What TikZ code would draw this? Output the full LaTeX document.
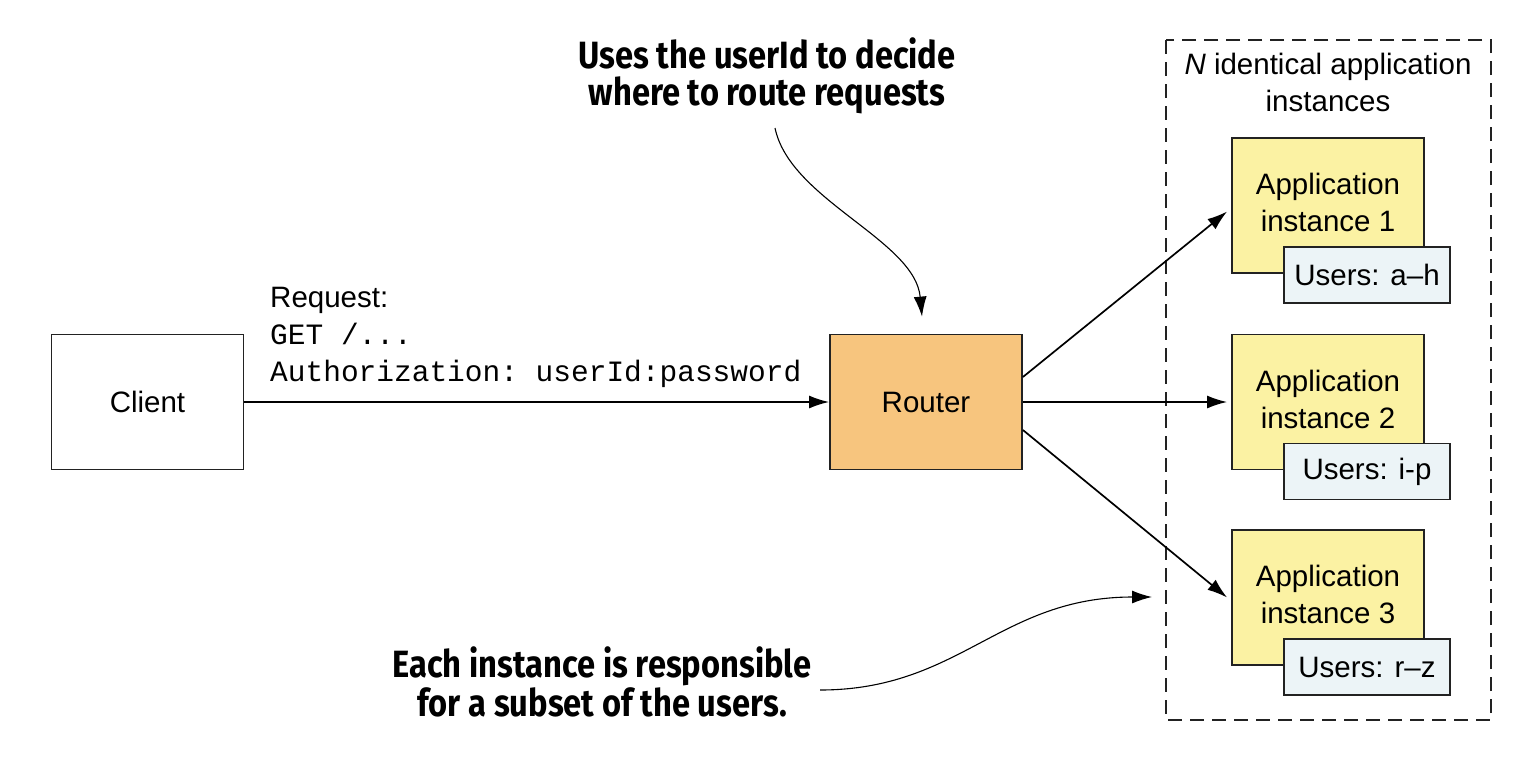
\documentclass[tikz,border=0pt]{standalone}
\usepackage{fontspec}
\setmainfont{Liberation Sans}
\setmonofont{Liberation Mono}
\newfontfamily\annotfont[FakeStretch=0.86]{Fira Sans}
\usetikzlibrary{arrows.meta}
\definecolor{routerfill}{HTML}{F7C57E}
\definecolor{appfill}{HTML}{FBF2A3}
\definecolor{userfill}{HTML}{ECF4F7}
\definecolor{edge}{HTML}{222222}
\begin{document}
\begin{tikzpicture}[x=1pt,y=-1pt,
  box/.style={draw=edge,line width=1.8pt,inner sep=0pt,minimum width=192pt,minimum height=135pt},
  appbox/.style={box,fill=appfill},
  userbox/.style={draw=edge,line width=1.8pt,fill=userfill,inner sep=0pt,minimum width=166pt,minimum height=56pt,font=\fontsize{29.5}{37}\selectfont},
  lbl/.style={font=\fontsize{29.5}{37}\selectfont,align=center,inner sep=0pt},
  mono/.style={font=\ttfamily\fontsize{29.5}{36}\selectfont,inner sep=0pt,anchor=base west},
  note/.style={font=\annotfont\bfseries\fontsize{38}{37}\selectfont,align=center,inner sep=0pt},
  arr/.style={draw=black,line width=1.7pt,-{Latex[length=20pt,width=13pt]}},
  curvearr/.style={draw=black,line width=1.1pt,-{Latex[length=20pt,width=13pt]}}]
\useasboundingbox[fill=white] (0,0) rectangle (1532,756);

% dashed container
\draw[edge,line width=1.6pt,dash pattern=on 14pt off 8pt] (1166,40) rectangle (1491,720);
\node[lbl] (ntitle) at (1328,82.8) {\textit{N} identical application\\instances};

% client and router
\node[box,fill=white,font=\fontsize{29.5}{37}\selectfont] (client) at (147.5,402) {Client};
\node[box,fill=routerfill,font=\fontsize{29.5}{37}\selectfont] (router) at (926,402) {Router};

% request text
\node[font=\fontsize{29.5}{37}\selectfont,inner sep=0pt,anchor=base west] (req1) at (270,307) {Request:};
\node[mono] (req2) at (270,344) {GET /...};
\node[mono] (req3) at (270,381) {Authorization: userId:password};

% application instances
\node[appbox] (app1) at (1328,205.5) {};
\node[lbl] (app1t) at (1328,202.7) {Application\\instance 1};
\node[userbox] (u1) at (1367,275) {Users: a--h};

\node[appbox] (app2) at (1328,402) {};
\node[lbl] (app2t) at (1328,399.2) {Application\\instance 2};
\node[userbox] (u2) at (1367,471.5) {Users: i-p};

\node[appbox] (app3) at (1328,597.5) {};
\node[lbl] (app3t) at (1328,594.7) {Application\\instance 3};
\node[userbox] (u3) at (1367,667) {Users: r--z};

% connectors
\draw[arr] (client.east) -- (router.west);
\draw[arr] ([yshift=25pt]router.east) -- ([xshift=-4pt,yshift=-6pt]app1.west);
\draw[arr] (router.east) -- ([xshift=-4pt]app2.west);
\draw[arr] ([yshift=-28pt]router.east) -- ([xshift=-4pt]app3.west);

% annotations
\node[note] (topnote) at (767,76) {Uses the userId to decide\\where to route requests};
\coordinate (topstart) at (775,128);
\draw[curvearr] (topstart) .. controls (790,200) and (915,240) .. ([xshift=-4pt,yshift=17pt]router.north);

\node[note] (botnote) at (602,682) {Each instance is responsible\\for a subset of the users.};
\coordinate (botstart) at (820,690);
\coordinate (botend) at (1152,597);
\draw[curvearr] (botstart) .. controls (960,690) and (1000,597) .. (botend);
\end{tikzpicture}
\end{document}
